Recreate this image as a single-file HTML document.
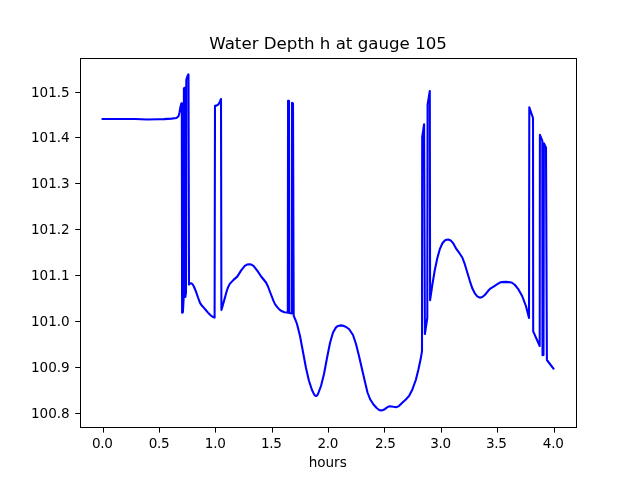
<!DOCTYPE html>
<html lang="en">
<head>
<meta charset="utf-8">
<title>Water Depth h at gauge 105</title>
<style>
html,body{margin:0;padding:0;background:#ffffff;}
body{width:640px;height:480px;overflow:hidden;font-family:"DejaVu Sans","Liberation Sans",sans-serif;}
svg{display:block;}
</style>
</head>
<body>
<svg width="640" height="480" viewBox="0 0 640 480">
<rect x="0" y="0" width="640" height="480" fill="#ffffff"/>
<g clip-path="url(#ax)"><path d="M102.60,119.00 L120.00,119.00 L135.00,119.05 L147.00,119.50 L158.00,119.30 L164.00,119.10 L171.50,118.60 L176.50,118.00 L178.50,116.30 L179.50,112.50 L180.50,106.80 L181.30,103.60 L181.80,103.20 L182.10,312.80 L182.90,312.20 L183.30,305.00 L183.60,299.50 L183.90,88.40 L185.00,87.60 L185.40,296.90 L186.00,292.00 L186.30,79.80 L187.40,76.20 L188.30,74.40 L188.50,74.50 L189.00,284.60 L190.00,283.60 L191.30,283.20 L192.60,284.20 L194.00,286.75 L196.00,291.60 L198.00,297.50 L200.00,302.80 L202.00,305.80 L204.00,307.90 L206.00,310.20 L208.00,312.60 L210.00,314.80 L212.50,316.80 L214.60,317.60 L215.00,105.80 L216.50,105.60 L218.20,104.60 L219.60,102.40 L221.00,99.00 L221.40,310.00 L221.90,308.40 L224.10,300.60 L226.60,291.40 L228.20,287.00 L229.75,283.90 L233.50,279.90 L237.25,276.60 L241.00,270.60 L244.75,265.90 L247.00,264.60 L249.10,264.20 L251.30,264.60 L253.50,265.80 L257.25,270.60 L261.00,276.25 L266.00,282.50 L268.00,286.50 L269.75,291.25 L273.50,300.80 L275.00,304.20 L277.25,307.10 L279.50,309.60 L282.00,311.30 L284.50,312.20 L287.00,312.50 L287.80,312.60 L288.05,100.80 L289.00,100.90 L289.20,313.00 L291.80,313.40 L292.05,102.80 L293.00,103.60 L293.70,315.80 L295.50,320.00 L297.00,324.00 L300.00,336.00 L303.00,352.00 L306.00,368.00 L309.00,381.00 L312.00,390.00 L314.20,394.60 L315.30,395.80 L316.20,396.00 L317.20,395.30 L318.00,394.00 L321.00,386.00 L324.00,374.00 L327.00,358.00 L330.00,343.00 L333.00,332.50 L336.00,327.40 L338.00,325.90 L340.00,325.40 L342.50,325.60 L345.00,326.40 L349.00,329.00 L353.00,335.00 L356.00,344.00 L359.00,356.00 L362.00,369.00 L365.00,382.00 L367.50,392.50 L370.00,399.00 L373.30,404.20 L376.70,408.00 L379.20,410.00 L381.00,410.40 L382.50,410.20 L384.20,409.60 L386.70,407.60 L388.50,406.60 L390.00,406.30 L393.30,406.80 L396.70,407.20 L399.20,405.80 L402.50,402.50 L405.80,399.50 L409.20,395.80 L412.50,389.20 L415.80,380.00 L418.30,370.00 L420.80,358.30 L422.00,351.00 L422.20,137.00 L424.10,124.20 L424.90,334.00 L427.30,318.00 L427.60,104.60 L429.80,91.00 L430.10,300.20 L432.30,285.00 L434.80,270.00 L437.30,258.30 L439.80,249.20 L442.30,243.50 L444.80,240.50 L446.50,239.70 L448.20,239.50 L450.70,240.40 L453.20,243.30 L456.50,249.20 L459.80,253.70 L462.30,257.50 L464.80,264.20 L467.30,272.50 L469.80,280.80 L472.30,288.30 L474.80,293.30 L477.30,296.30 L479.80,297.70 L482.30,297.00 L484.80,295.00 L488.20,290.80 L490.70,288.30 L494.00,286.30 L497.30,284.20 L499.50,282.80 L501.60,282.10 L506.00,281.90 L511.60,282.50 L514.75,284.75 L518.50,289.40 L522.25,296.25 L526.00,306.25 L529.00,318.00 L529.30,107.30 L533.00,118.00 L533.20,331.30 L539.70,346.00 L539.90,134.90 L542.30,140.60 L542.50,355.20 L543.50,355.00 L543.90,143.20 L546.00,147.80 L546.90,360.00 L553.40,368.60" fill="none" stroke="#0000ff" stroke-width="2.08" stroke-linejoin="round" stroke-linecap="square"/></g>
<defs><clipPath id="ax"><rect x="80.5" y="58.5" width="496" height="369"/></clipPath></defs>
<g fill="#000000" shape-rendering="crispEdges">
<rect x="80" y="58" width="1" height="370"/>
<rect x="576" y="58" width="1" height="370"/>
<rect x="80" y="58" width="497" height="1"/>
<rect x="80" y="427" width="497" height="1"/>
</g>
<g fill="#000000">
<rect x="103" y="428" width="1" height="4.6"/>
<rect x="159" y="428" width="1" height="4.6"/>
<rect x="215" y="428" width="1" height="4.6"/>
<rect x="272" y="428" width="1" height="4.6"/>
<rect x="328" y="428" width="1" height="4.6"/>
<rect x="384" y="428" width="1" height="4.6"/>
<rect x="441" y="428" width="1" height="4.6"/>
<rect x="497" y="428" width="1" height="4.6"/>
<rect x="554" y="428" width="1" height="4.6"/>
<rect x="75.2" y="413" width="4.8" height="1"/>
<rect x="75.2" y="367" width="4.8" height="1"/>
<rect x="75.2" y="321" width="4.8" height="1"/>
<rect x="75.2" y="275" width="4.8" height="1"/>
<rect x="75.2" y="229" width="4.8" height="1"/>
<rect x="75.2" y="183" width="4.8" height="1"/>
<rect x="75.2" y="137" width="4.8" height="1"/>
<rect x="75.2" y="92" width="4.8" height="1"/>
</g>
<g font-family="'DejaVu Sans', 'Liberation Sans', sans-serif" fill="#000000">
<g font-size="13.55px" text-anchor="middle">
<text x="102.30" y="448.0" letter-spacing="-0.3">0.0</text>
<text x="159.10" y="448.0" letter-spacing="-0.3">0.5</text>
<text x="215.20" y="448.0" letter-spacing="-0.3">1.0</text>
<text x="271.25" y="448.0" letter-spacing="-0.3">1.5</text>
<text x="327.80" y="448.0" letter-spacing="-0.3">2.0</text>
<text x="385.30" y="448.0" letter-spacing="-0.3">2.5</text>
<text x="440.50" y="448.0" letter-spacing="-0.3">3.0</text>
<text x="496.30" y="448.0" letter-spacing="-0.3">3.5</text>
<text x="553.20" y="448.0" letter-spacing="-0.3">4.0</text>
<text x="327.7" y="467">hours</text>
</g>
<g font-size="13.55px" text-anchor="end">
<text x="69.7" y="417.6">100.8</text>
<text x="69.7" y="371.6">100.9</text>
<text x="69.7" y="325.6">101.0</text>
<text x="69.7" y="279.6">101.1</text>
<text x="69.7" y="233.6">101.2</text>
<text x="69.7" y="187.6">101.3</text>
<text x="69.7" y="141.6">101.4</text>
<text x="69.7" y="96.6">101.5</text>
</g>
<text x="328.1" y="48.5" font-size="16.67px" text-anchor="middle">Water Depth h at gauge 105</text>
</g>
</svg>
</body>
</html>
